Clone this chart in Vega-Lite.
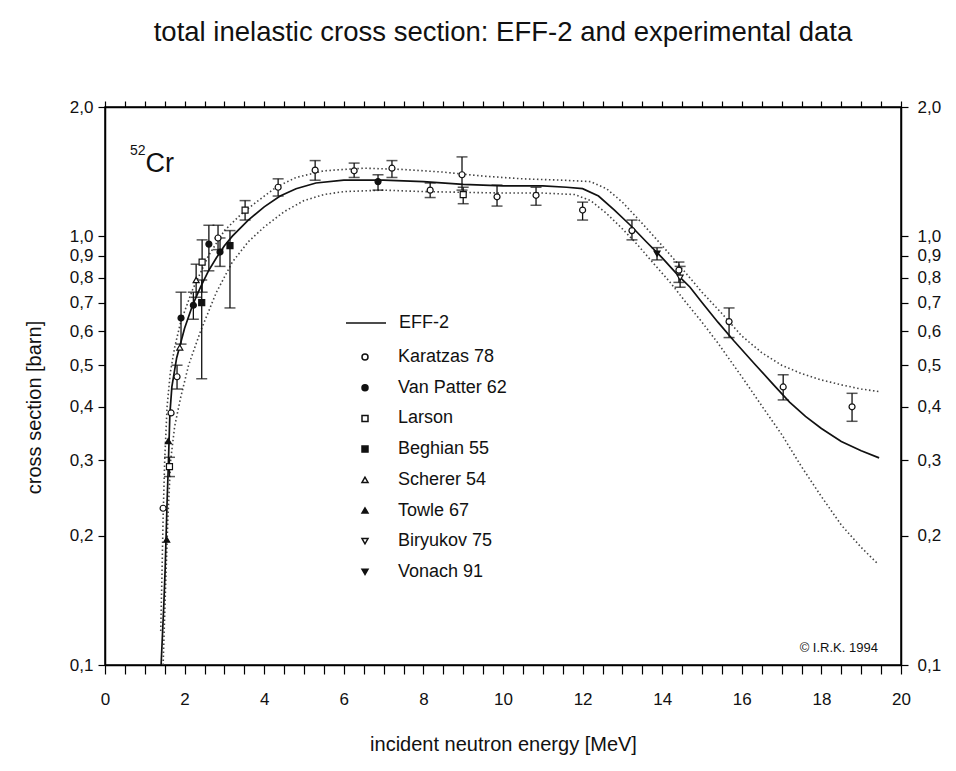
{
  "$schema": "https://vega.github.io/schema/vega-lite/v6.json",
  "width": 796,
  "height": 558,
  "autosize": {"type": "none"},
  "padding": {"left": 105, "top": 107, "right": 55, "bottom": 106},
  "background": "white",
  "title": {
    "text": "total inelastic cross section: EFF-2 and experimental data",
    "font": "Liberation Sans",
    "fontSize": 27.5,
    "fontWeight": "normal",
    "color": "#111111",
    "anchor": "middle",
    "offset": 52
  },
  "config": {
    "view": {"stroke": "black", "strokeWidth": 1.5},
    "font": "Liberation Sans",
    "axis": {
      "grid": false,
      "domainColor": "black",
      "domainWidth": 1.5,
      "tickColor": "black",
      "tickWidth": 1.2,
      "labelColor": "#111111",
      "labelFont": "Liberation Sans",
      "labelFontSize": 17,
      "labelOverlap": false,
      "labelFlush": false,
      "titleFont": "Liberation Sans",
      "titleFontSize": 20,
      "titleFontWeight": "normal",
      "titleColor": "#111111"
    },
    "legend": {
      "labelFont": "Liberation Sans",
      "labelFontSize": 18,
      "labelColor": "#111111"
    }
  },
  "datasets": {
    "curves": [
      {"E": 1.41, "sigma": 0.1, "curve": "EFF-2"},
      {"E": 1.48, "sigma": 0.14, "curve": "EFF-2"},
      {"E": 1.51, "sigma": 0.166, "curve": "EFF-2"},
      {"E": 1.56, "sigma": 0.24, "curve": "EFF-2"},
      {"E": 1.59, "sigma": 0.29, "curve": "EFF-2"},
      {"E": 1.63, "sigma": 0.385, "curve": "EFF-2"},
      {"E": 1.68, "sigma": 0.445, "curve": "EFF-2"},
      {"E": 1.8, "sigma": 0.52, "curve": "EFF-2"},
      {"E": 2.0, "sigma": 0.61, "curve": "EFF-2"},
      {"E": 2.2, "sigma": 0.69, "curve": "EFF-2"},
      {"E": 2.4, "sigma": 0.76, "curve": "EFF-2"},
      {"E": 2.6, "sigma": 0.83, "curve": "EFF-2"},
      {"E": 2.8, "sigma": 0.89, "curve": "EFF-2"},
      {"E": 3.0, "sigma": 0.95, "curve": "EFF-2"},
      {"E": 3.2, "sigma": 1.0, "curve": "EFF-2"},
      {"E": 3.6, "sigma": 1.09, "curve": "EFF-2"},
      {"E": 4.0, "sigma": 1.17, "curve": "EFF-2"},
      {"E": 4.4, "sigma": 1.24, "curve": "EFF-2"},
      {"E": 4.8, "sigma": 1.29, "curve": "EFF-2"},
      {"E": 5.3, "sigma": 1.33, "curve": "EFF-2"},
      {"E": 6.0, "sigma": 1.35, "curve": "EFF-2"},
      {"E": 7.0, "sigma": 1.35, "curve": "EFF-2"},
      {"E": 8.0, "sigma": 1.34, "curve": "EFF-2"},
      {"E": 9.0, "sigma": 1.32, "curve": "EFF-2"},
      {"E": 10.0, "sigma": 1.31, "curve": "EFF-2"},
      {"E": 11.0, "sigma": 1.31, "curve": "EFF-2"},
      {"E": 11.6, "sigma": 1.3, "curve": "EFF-2"},
      {"E": 12.0, "sigma": 1.29, "curve": "EFF-2"},
      {"E": 12.4, "sigma": 1.24, "curve": "EFF-2"},
      {"E": 12.8, "sigma": 1.15, "curve": "EFF-2"},
      {"E": 13.2, "sigma": 1.06, "curve": "EFF-2"},
      {"E": 13.6, "sigma": 0.97, "curve": "EFF-2"},
      {"E": 14.0, "sigma": 0.89, "curve": "EFF-2"},
      {"E": 14.4, "sigma": 0.81, "curve": "EFF-2"},
      {"E": 14.7, "sigma": 0.76, "curve": "EFF-2"},
      {"E": 15.0, "sigma": 0.7, "curve": "EFF-2"},
      {"E": 15.4, "sigma": 0.63, "curve": "EFF-2"},
      {"E": 15.8, "sigma": 0.57, "curve": "EFF-2"},
      {"E": 16.3, "sigma": 0.506, "curve": "EFF-2"},
      {"E": 16.8, "sigma": 0.45, "curve": "EFF-2"},
      {"E": 17.2, "sigma": 0.41, "curve": "EFF-2"},
      {"E": 17.6, "sigma": 0.38, "curve": "EFF-2"},
      {"E": 18.0, "sigma": 0.356, "curve": "EFF-2"},
      {"E": 18.5, "sigma": 0.332, "curve": "EFF-2"},
      {"E": 19.0, "sigma": 0.316, "curve": "EFF-2"},
      {"E": 19.45, "sigma": 0.304, "curve": "EFF-2"},

      {"E": 1.4, "sigma": 0.12, "curve": "upper"},
      {"E": 1.43, "sigma": 0.16, "curve": "upper"},
      {"E": 1.46, "sigma": 0.22, "curve": "upper"},
      {"E": 1.5, "sigma": 0.3, "curve": "upper"},
      {"E": 1.56, "sigma": 0.4, "curve": "upper"},
      {"E": 1.64, "sigma": 0.48, "curve": "upper"},
      {"E": 1.75, "sigma": 0.55, "curve": "upper"},
      {"E": 1.9, "sigma": 0.63, "curve": "upper"},
      {"E": 2.2, "sigma": 0.75, "curve": "upper"},
      {"E": 2.6, "sigma": 0.9, "curve": "upper"},
      {"E": 3.0, "sigma": 1.03, "curve": "upper"},
      {"E": 3.4, "sigma": 1.12, "curve": "upper"},
      {"E": 3.8, "sigma": 1.2, "curve": "upper"},
      {"E": 4.3, "sigma": 1.3, "curve": "upper"},
      {"E": 4.8, "sigma": 1.37, "curve": "upper"},
      {"E": 5.5, "sigma": 1.42, "curve": "upper"},
      {"E": 6.5, "sigma": 1.44, "curve": "upper"},
      {"E": 7.5, "sigma": 1.43, "curve": "upper"},
      {"E": 8.5, "sigma": 1.41, "curve": "upper"},
      {"E": 9.5, "sigma": 1.38, "curve": "upper"},
      {"E": 10.5, "sigma": 1.36, "curve": "upper"},
      {"E": 11.5, "sigma": 1.35, "curve": "upper"},
      {"E": 12.2, "sigma": 1.34, "curve": "upper"},
      {"E": 12.6, "sigma": 1.29, "curve": "upper"},
      {"E": 13.0, "sigma": 1.2, "curve": "upper"},
      {"E": 13.5, "sigma": 1.07, "curve": "upper"},
      {"E": 14.0, "sigma": 0.95, "curve": "upper"},
      {"E": 14.5, "sigma": 0.84, "curve": "upper"},
      {"E": 15.0, "sigma": 0.74, "curve": "upper"},
      {"E": 15.5, "sigma": 0.66, "curve": "upper"},
      {"E": 16.0, "sigma": 0.585, "curve": "upper"},
      {"E": 16.5, "sigma": 0.535, "curve": "upper"},
      {"E": 17.0, "sigma": 0.5, "curve": "upper"},
      {"E": 17.5, "sigma": 0.478, "curve": "upper"},
      {"E": 18.0, "sigma": 0.462, "curve": "upper"},
      {"E": 18.5, "sigma": 0.45, "curve": "upper"},
      {"E": 19.0, "sigma": 0.44, "curve": "upper"},
      {"E": 19.45, "sigma": 0.434, "curve": "upper"},

      {"E": 1.46, "sigma": 0.1, "curve": "lower"},
      {"E": 1.52, "sigma": 0.15, "curve": "lower"},
      {"E": 1.58, "sigma": 0.22, "curve": "lower"},
      {"E": 1.65, "sigma": 0.3, "curve": "lower"},
      {"E": 1.75, "sigma": 0.36, "curve": "lower"},
      {"E": 1.9, "sigma": 0.42, "curve": "lower"},
      {"E": 2.1, "sigma": 0.5, "curve": "lower"},
      {"E": 2.4, "sigma": 0.6, "curve": "lower"},
      {"E": 2.8, "sigma": 0.74, "curve": "lower"},
      {"E": 3.2, "sigma": 0.87, "curve": "lower"},
      {"E": 3.6, "sigma": 0.97, "curve": "lower"},
      {"E": 4.0, "sigma": 1.05, "curve": "lower"},
      {"E": 4.5, "sigma": 1.14, "curve": "lower"},
      {"E": 5.0, "sigma": 1.21, "curve": "lower"},
      {"E": 5.5, "sigma": 1.25, "curve": "lower"},
      {"E": 6.0, "sigma": 1.27, "curve": "lower"},
      {"E": 7.0, "sigma": 1.28, "curve": "lower"},
      {"E": 8.0, "sigma": 1.27, "curve": "lower"},
      {"E": 9.0, "sigma": 1.265, "curve": "lower"},
      {"E": 10.0, "sigma": 1.26, "curve": "lower"},
      {"E": 11.0, "sigma": 1.26, "curve": "lower"},
      {"E": 11.8, "sigma": 1.25, "curve": "lower"},
      {"E": 12.2, "sigma": 1.21, "curve": "lower"},
      {"E": 12.6, "sigma": 1.13, "curve": "lower"},
      {"E": 13.0, "sigma": 1.04, "curve": "lower"},
      {"E": 13.4, "sigma": 0.95, "curve": "lower"},
      {"E": 13.8, "sigma": 0.86, "curve": "lower"},
      {"E": 14.2, "sigma": 0.78, "curve": "lower"},
      {"E": 14.6, "sigma": 0.7, "curve": "lower"},
      {"E": 15.0, "sigma": 0.63, "curve": "lower"},
      {"E": 15.4, "sigma": 0.563, "curve": "lower"},
      {"E": 16.0, "sigma": 0.47, "curve": "lower"},
      {"E": 16.6, "sigma": 0.39, "curve": "lower"},
      {"E": 17.0, "sigma": 0.345, "curve": "lower"},
      {"E": 17.5, "sigma": 0.29, "curve": "lower"},
      {"E": 18.0, "sigma": 0.247, "curve": "lower"},
      {"E": 18.5, "sigma": 0.212, "curve": "lower"},
      {"E": 19.0, "sigma": 0.188, "curve": "lower"},
      {"E": 19.42, "sigma": 0.172, "curve": "lower"}
    ],
    "points": [
      {"E": 1.46, "sigma": 0.232, "lo": null, "hi": null, "series": "Karatzas 78"},
      {"E": 1.66, "sigma": 0.387, "lo": null, "hi": null, "series": "Karatzas 78"},
      {"E": 1.81, "sigma": 0.47, "lo": 0.44, "hi": 0.5, "series": "Karatzas 78"},
      {"E": 2.84, "sigma": 0.99, "lo": 0.93, "hi": 1.06, "series": "Karatzas 78"},
      {"E": 4.35, "sigma": 1.3, "lo": 1.24, "hi": 1.36, "series": "Karatzas 78"},
      {"E": 5.28, "sigma": 1.425, "lo": 1.35, "hi": 1.5, "series": "Karatzas 78"},
      {"E": 6.26, "sigma": 1.42, "lo": 1.37, "hi": 1.48, "series": "Karatzas 78"},
      {"E": 7.21, "sigma": 1.44, "lo": 1.37, "hi": 1.5, "series": "Karatzas 78"},
      {"E": 8.17, "sigma": 1.28, "lo": 1.23, "hi": 1.33, "series": "Karatzas 78"},
      {"E": 8.97, "sigma": 1.39, "lo": 1.28, "hi": 1.53, "series": "Karatzas 78"},
      {"E": 9.85, "sigma": 1.235, "lo": 1.175, "hi": 1.315, "series": "Karatzas 78"},
      {"E": 10.83, "sigma": 1.245, "lo": 1.18, "hi": 1.3, "series": "Karatzas 78"},
      {"E": 12.0, "sigma": 1.15, "lo": 1.09, "hi": 1.2, "series": "Karatzas 78"},
      {"E": 13.24, "sigma": 1.03, "lo": 0.98, "hi": 1.09, "series": "Karatzas 78"},
      {"E": 14.42, "sigma": 0.833, "lo": 0.78, "hi": 0.87, "series": "Karatzas 78"},
      {"E": 15.68, "sigma": 0.632, "lo": 0.58, "hi": 0.68, "series": "Karatzas 78"},
      {"E": 17.04, "sigma": 0.445, "lo": 0.415, "hi": 0.475, "series": "Karatzas 78"},
      {"E": 18.77, "sigma": 0.4, "lo": 0.37, "hi": 0.43, "series": "Karatzas 78"},
      {"E": 1.91, "sigma": 0.644, "lo": 0.56, "hi": 0.74, "series": "Van Patter 62"},
      {"E": 2.22, "sigma": 0.69, "lo": 0.64, "hi": 0.74, "series": "Van Patter 62"},
      {"E": 2.61, "sigma": 0.958, "lo": 0.83, "hi": 1.06, "series": "Van Patter 62"},
      {"E": 2.89, "sigma": 0.918, "lo": 0.85, "hi": 0.99, "series": "Van Patter 62"},
      {"E": 6.86, "sigma": 1.34, "lo": 1.28, "hi": 1.39, "series": "Van Patter 62"},
      {"E": 1.62, "sigma": 0.29, "lo": 0.275, "hi": 0.305, "series": "Larson"},
      {"E": 2.44, "sigma": 0.87, "lo": 0.74, "hi": 0.98, "series": "Larson"},
      {"E": 3.52, "sigma": 1.15, "lo": 1.09, "hi": 1.21, "series": "Larson"},
      {"E": 9.0, "sigma": 1.25, "lo": 1.19, "hi": 1.3, "series": "Larson"},
      {"E": 2.43, "sigma": 0.7, "lo": 0.465, "hi": 0.79, "series": "Beghian 55"},
      {"E": 3.14, "sigma": 0.95, "lo": 0.68, "hi": 1.03, "series": "Beghian 55"},
      {"E": 1.88, "sigma": 0.55, "lo": null, "hi": null, "series": "Scherer 54"},
      {"E": 2.29, "sigma": 0.79, "lo": 0.72, "hi": 0.86, "series": "Scherer 54"},
      {"E": 1.59, "sigma": 0.333, "lo": null, "hi": null, "series": "Towle 67"},
      {"E": 1.55, "sigma": 0.196, "lo": null, "hi": null, "series": "Towle 67"},
      {"E": 14.45, "sigma": 0.8, "lo": 0.76, "hi": 0.85, "series": "Biryukov 75"},
      {"E": 13.87, "sigma": 0.91, "lo": 0.88, "hi": 0.94, "series": "Vonach 91"}
    ]
  },
  "layer": [
    {
      "data": {"name": "curves"},
      "transform": [{"filter": "datum.curve !== 'EFF-2'"}],
      "mark": {"type": "line", "color": "#444444", "strokeWidth": 1.6, "strokeDash": [1.5, 2.5]},
      "encoding": {
        "x": {
          "field": "E", "type": "quantitative",
          "scale": {"domain": [0, 20], "nice": false, "zero": false},
          "axis": {
            "orient": "bottom",
            "title": "incident neutron energy [MeV]",
            "titlePadding": 27,
            "values": [0, 0.5, 1, 1.5, 2, 2.5, 3, 3.5, 4, 4.5, 5, 5.5, 6, 6.5, 7, 7.5, 8, 8.5, 9, 9.5, 10, 10.5, 11, 11.5, 12, 12.5, 13, 13.5, 14, 14.5, 15, 15.5, 16, 16.5, 17, 17.5, 18, 18.5, 19, 19.5, 20],
            "labelExpr": "datum.value % 2 === 0 ? format(datum.value, 'd') : ''",
            "tickSize": 9,
            "labelPadding": 17,
            "encode": {
              "ticks": {"update": {"y2": {"signal": "datum.value % 2 === 0 ? 9 : 5"}}}
            }
          }
        },
        "y": {
          "field": "sigma", "type": "quantitative",
          "scale": {"type": "log", "domain": [0.1, 2], "nice": false},
          "axis": {
            "orient": "left",
            "title": "cross section [barn]",
            "titlePadding": 25,
            "titleY": 300,
            "values": [0.1, 0.2, 0.3, 0.4, 0.5, 0.6, 0.7, 0.8, 0.9, 1.0, 2.0],
            "labelExpr": "replace(format(datum.value, '.1f'), '.', ',')",
            "tickSize": 7,
            "labelPadding": 5
          }
        },
        "detail": {"field": "curve", "type": "nominal"}
      }
    },
    {
      "data": {"name": "curves"},
      "transform": [{"filter": "datum.curve === 'EFF-2'"}],
      "mark": {"type": "line", "strokeWidth": 1.7},
      "encoding": {
        "x": {"field": "E", "type": "quantitative", "axis": null},
        "y": {"field": "sigma", "type": "quantitative", "axis": null},
        "stroke": {
          "field": "curve", "type": "nominal",
          "scale": {"domain": ["EFF-2"], "range": ["#111111"]},
          "legend": {
            "title": null,
            "orient": "none",
            "legendX": 240,
            "legendY": 195,
            "symbolSize": 1600,
            "symbolStrokeWidth": 1.6,
            "labelOffset": 12
          }
        }
      }
    },
    {
      "data": {"name": "points"},
      "transform": [{"filter": "isValid(datum.lo)"}],
      "mark": {"type": "rule", "color": "#111111", "strokeWidth": 1.3},
      "encoding": {
        "x": {"field": "E", "type": "quantitative", "axis": null},
        "y": {"field": "lo", "type": "quantitative", "axis": null},
        "y2": {"field": "hi"}
      }
    },
    {
      "data": {"name": "points"},
      "transform": [{"filter": "isValid(datum.lo)"}],
      "mark": {"type": "tick", "orient": "horizontal", "color": "#111111", "size": 11, "thickness": 1.5},
      "encoding": {
        "x": {"field": "E", "type": "quantitative", "axis": null},
        "y": {"field": "lo", "type": "quantitative", "axis": null}
      }
    },
    {
      "data": {"name": "points"},
      "transform": [{"filter": "isValid(datum.hi)"}],
      "mark": {"type": "tick", "orient": "horizontal", "color": "#111111", "size": 11, "thickness": 1.5},
      "encoding": {
        "x": {"field": "E", "type": "quantitative", "axis": null},
        "y": {"field": "hi", "type": "quantitative", "axis": null}
      }
    },
    {
      "data": {"name": "points"},
      "mark": {"type": "point", "filled": true, "stroke": "#111111", "strokeWidth": 1.2, "size": 36, "opacity": 1},
      "encoding": {
        "x": {
          "field": "E", "type": "quantitative",
          "axis": {
            "orient": "top",
            "title": null,
            "labels": false,
            "values": [0, 0.5, 1, 1.5, 2, 2.5, 3, 3.5, 4, 4.5, 5, 5.5, 6, 6.5, 7, 7.5, 8, 8.5, 9, 9.5, 10, 10.5, 11, 11.5, 12, 12.5, 13, 13.5, 14, 14.5, 15, 15.5, 16, 16.5, 17, 17.5, 18, 18.5, 19, 19.5, 20],
            "tickSize": 6,
            "encode": {
              "ticks": {"update": {"y2": {"signal": "datum.value % 2 === 0 ? 9 : 5"}}}
            }
          }
        },
        "y": {
          "field": "sigma", "type": "quantitative",
          "axis": {
            "orient": "right",
            "title": null,
            "values": [0.1, 0.2, 0.3, 0.4, 0.5, 0.6, 0.7, 0.8, 0.9, 1.0, 2.0],
            "labelExpr": "replace(format(datum.value, '.1f'), '.', ',')",
            "tickSize": 7,
            "labelPadding": 9
          }
        },
        "shape": {
          "field": "series", "type": "nominal",
          "scale": {
            "domain": ["Karatzas 78", "Van Patter 62", "Larson", "Beghian 55", "Scherer 54", "Towle 67", "Biryukov 75", "Vonach 91"],
            "range": ["circle", "circle", "square", "square", "triangle-up", "triangle-up", "triangle-down", "triangle-down"]
          },
          "legend": {
            "title": null,
            "orient": "none",
            "legendX": 251,
            "legendY": 241,
            "symbolSize": 36,
            "labelOffset": 24,
            "rowPadding": 12.7,
            "encode": {
              "symbols": {"update": {"stroke": {"value": "#111111"}, "strokeWidth": {"value": 1.2}}}
            }
          }
        },
        "fill": {
          "field": "series", "type": "nominal",
          "scale": {
            "domain": ["Karatzas 78", "Van Patter 62", "Larson", "Beghian 55", "Scherer 54", "Towle 67", "Biryukov 75", "Vonach 91"],
            "range": ["white", "#111111", "white", "#111111", "white", "#111111", "white", "#111111"]
          },
          "legend": {
            "title": null,
            "orient": "none",
            "legendX": 251,
            "legendY": 241,
            "symbolSize": 36,
            "labelOffset": 24,
            "rowPadding": 12.7,
            "encode": {
              "symbols": {"update": {"stroke": {"value": "#111111"}, "strokeWidth": {"value": 1.2}}}
            }
          }
        }
      }
    },
    {
      "data": {"values": [{"E": 1.02, "sigma": 1.47, "label": "Cr"}]},
      "mark": {"type": "text", "align": "left", "baseline": "middle", "font": "Liberation Sans", "fontSize": 27, "color": "#111111"},
      "encoding": {
        "x": {"field": "E", "type": "quantitative", "axis": null},
        "y": {"field": "sigma", "type": "quantitative", "axis": null},
        "text": {"field": "label"}
      }
    },
    {
      "data": {"values": [{"E": 1.02, "sigma": 1.58, "label": "52"}]},
      "mark": {"type": "text", "align": "right", "baseline": "middle", "font": "Liberation Sans", "fontSize": 14, "color": "#111111"},
      "encoding": {
        "x": {"field": "E", "type": "quantitative", "axis": null},
        "y": {"field": "sigma", "type": "quantitative", "axis": null},
        "text": {"field": "label"}
      }
    },
    {
      "data": {"values": [{"E": 19.42, "sigma": 0.1095, "label": "© I.R.K. 1994"}]},
      "mark": {"type": "text", "align": "right", "baseline": "middle", "font": "Liberation Sans", "fontSize": 13, "color": "#111111"},
      "encoding": {
        "x": {"field": "E", "type": "quantitative", "axis": null},
        "y": {"field": "sigma", "type": "quantitative", "axis": null},
        "text": {"field": "label"}
      }
    }
  ],
  "resolve": {"axis": {"x": "independent", "y": "independent"}}
}
